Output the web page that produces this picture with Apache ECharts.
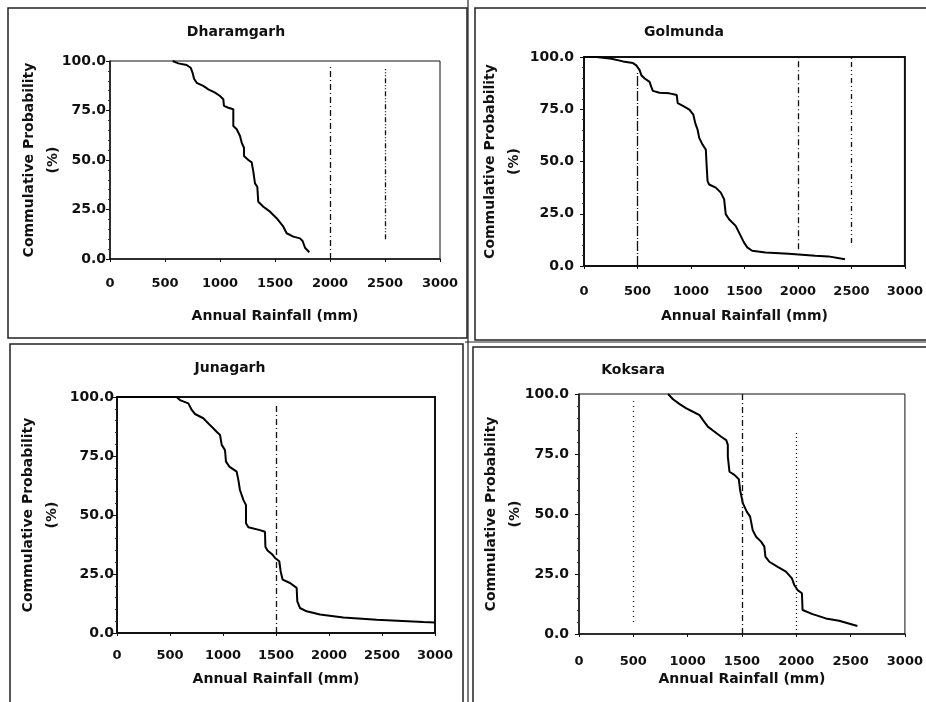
<!DOCTYPE html>
<html>
<head>
<meta charset="utf-8">
<script src="https://cdn.jsdelivr.net/npm/echarts@6/dist/echarts.min.js"></script>
<style>html,body{margin:0;padding:0;background:#fff}#c{width:926px;height:702px}</style>
</head>
<body>
<div id="c"></div>
<script>
// ---- data ----
const stations = ['Dharamgarh', 'Golmunda', 'Junagarh', 'Koksara'];
const xTicks = [0, 500, 1000, 1500, 2000, 2500, 3000];
const yTicks = [0, 25, 50, 75, 100];

const dharamgarhRain = [570, 621, 697, 733, 751, 764, 788, 848, 894, 955, 1000, 1030, 1036, 1076, 1121, 1121, 1152, 1182, 1197, 1218, 1218, 1258, 1288, 1303, 1318, 1339, 1348, 1394, 1455, 1515, 1576, 1606, 1667, 1727, 1751, 1773, 1812];
const dharamgarhProb = [100, 98.8, 98, 96.6, 94, 91, 89, 87.4, 85.7, 84, 82.3, 80.7, 77.3, 76.4, 75.6, 67.2, 65.5, 62.1, 58.8, 56.2, 52, 50, 48.8, 44.1, 38.2, 36.5, 28.9, 26.4, 23.9, 20.6, 16.3, 13, 11.3, 10.4, 9.1, 5.7, 3.4];

const golmundaRain = [0, 118, 257, 365, 458, 489, 520, 536, 567, 613, 629, 644, 706, 799, 867, 876, 938, 985, 1022, 1040, 1062, 1077, 1108, 1139, 1145, 1155, 1170, 1232, 1279, 1310, 1325, 1356, 1418, 1465, 1495, 1526, 1572, 1697, 1913, 2161, 2285, 2440];
const golmundaProb = [100, 100, 99.2, 97.9, 97.1, 96, 93.7, 91.3, 89.7, 88.1, 85.7, 83.8, 82.9, 82.6, 81.8, 77.9, 76.3, 74.8, 72.4, 68.4, 65.2, 61.3, 58.1, 55.7, 49.4, 40.6, 39, 37.5, 35.1, 31.9, 24.8, 22.4, 19.2, 14.4, 11.3, 8.9, 7.3, 6.5, 5.9, 4.9, 4.6, 3.2];

const junagarhRain = [0, 563, 594, 673, 705, 736, 814, 877, 940, 972, 988, 1019, 1028, 1060, 1129, 1145, 1160, 1192, 1217, 1217, 1239, 1349, 1396, 1400, 1420, 1460, 1491, 1531, 1544, 1563, 1632, 1695, 1701, 1726, 1789, 1915, 2135, 2450, 2890, 3000];
const junagarhProb = [100, 100, 98.7, 97.3, 94.5, 92.8, 91, 88.1, 85.3, 83.9, 79.7, 77.5, 72.6, 70.5, 68.4, 64.8, 60.6, 56.4, 54.2, 46.5, 44.8, 43.6, 42.9, 36.5, 35, 33.5, 31.8, 30.4, 26.1, 22.6, 21.2, 19.1, 13.4, 10.6, 9.2, 7.8, 6.6, 5.6, 4.7, 4.5];

const koksaraRain = [820, 865, 927, 988, 1049, 1110, 1140, 1186, 1248, 1309, 1355, 1370, 1370, 1385, 1431, 1471, 1483, 1508, 1544, 1575, 1599, 1630, 1676, 1706, 1716, 1752, 1829, 1905, 1960, 1982, 2012, 2052, 2058, 2150, 2272, 2394, 2563];
const koksaraProb = [100, 97.8, 95.8, 94, 92.6, 91.2, 89.2, 86.4, 84.3, 82.2, 80.8, 78.8, 73.9, 67.6, 66.3, 64.5, 60, 54.5, 51, 48.9, 43.3, 40.5, 38.5, 36.4, 32.2, 30.1, 28, 26, 23.2, 20.4, 18.3, 17, 10, 8.3, 6.5, 5.5, 3.3];

// vertical reference lines: rainfall value, lower %, upper %
const dharamgarhRefX = [2000, 2500], dharamgarhRefLo = [0, 10], dharamgarhRefHi = [97, 96];
const golmundaRefX = [500, 2000, 2500], golmundaRefLo = [0, 8, 11], golmundaRefHi = [93, 100, 100];
const junagarhRefX = [1500], junagarhRefLo = [0], junagarhRefHi = [97];
const koksaraRefX = [500, 1500, 2000], koksaraRefLo = [5, 0, 0], koksaraRefHi = [97, 100, 85];

// ---- layout / style ----
const FONT = 'DejaVu Sans';
const panels = [
  {rain: dharamgarhRain, prob: dharamgarhProb, refX: dharamgarhRefX, refLo: dharamgarhRefLo, refHi: dharamgarhRefHi,
   grid: {left: 110, top: 61, width: 330, height: 198}, title: [236, 32], xGap: 50, yGap: 45, yMargin: 4, xMargin: 18, border: 1,
   dash: [[6, 3, 1, 3], [5, 2, 1, 2, 1, 2]]},
  {rain: golmundaRain, prob: golmundaProb, refX: golmundaRefX, refLo: golmundaRefLo, refHi: golmundaRefHi,
   grid: {left: 584, top: 57, width: 323, height: 209}, title: [684, 32], xGap: 43, yGap: 58, yMargin: 10, xMargin: 19, border: 2,
   dash: [[10, 2, 1, 2], [6, 3, 1, 3], [5, 3, 1, 3, 1, 3]]},
  {rain: junagarhRain, prob: junagarhProb, refX: junagarhRefX, refLo: junagarhRefLo, refHi: junagarhRefHi,
   grid: {left: 117, top: 397, width: 318, height: 236}, title: [230, 368], xGap: 39, yGap: 53, yMargin: 3, xMargin: 16, border: 2,
   dash: [[6, 3, 1, 3]]},
  {rain: koksaraRain, prob: koksaraProb, refX: koksaraRefX, refLo: koksaraRefLo, refHi: koksaraRefHi,
   grid: {left: 579, top: 394, width: 327, height: 240}, title: [633, 370], xGap: 38, yGap: 52, yMargin: 10, xMargin: 21, border: 1,
   dash: [[1, 4], [6, 3, 1, 3], [1, 3]]}
];

const option = {
  backgroundColor: '#ffffff',
  animation: false,
  title: panels.map((p, i) => ({
    text: stations[i], left: p.title[0], top: p.title[1], padding: 0,
    textAlign: 'center', textVerticalAlign: 'middle',
    textStyle: {fontFamily: FONT, fontWeight: 'bold', fontSize: 14, color: '#111'}
  })),
  grid: panels.map(p => Object.assign({show: true, borderColor: '#111', borderWidth: p.border, backgroundColor: 'transparent'}, p.grid)),
  xAxis: panels.map((p, i) => ({
    type: 'value', gridIndex: i, min: xTicks[0], max: xTicks[xTicks.length - 1], interval: xTicks[1] - xTicks[0],
    name: 'Annual Rainfall (mm)', nameLocation: 'middle', nameGap: p.xGap, nameMoveOverlap: false,
    nameTextStyle: {fontFamily: FONT, fontWeight: 'bold', fontSize: 14, color: '#111'},
    axisLine: {show: true, onZero: false, lineStyle: {color: '#111', width: 1.5}},
    axisTick: {show: true, inside: false, length: 3, lineStyle: {color: '#111'}},
    axisLabel: {fontFamily: FONT, fontWeight: 'bold', fontSize: 13, color: '#111', margin: p.xMargin,
      formatter: v => String(v)},
    splitLine: {show: false}
  })),
  yAxis: panels.map((p, i) => ({
    type: 'value', gridIndex: i, min: yTicks[0], max: yTicks[yTicks.length - 1], interval: yTicks[1] - yTicks[0],
    name: 'Commulative Probability\n(%)', nameLocation: 'middle', nameRotate: 90, nameGap: p.yGap, nameMoveOverlap: false,
    nameTextStyle: {fontFamily: FONT, fontWeight: 'bold', fontSize: 14, color: '#111', lineHeight: 24, align: 'center'},
    axisLine: {show: true, onZero: false, lineStyle: {color: '#111', width: 1.5}},
    axisTick: {show: true, inside: false, length: 4, lineStyle: {color: '#111'}},
    minorTick: {show: true, splitNumber: 5, length: 2, lineStyle: {color: '#333'}},
    axisLabel: {fontFamily: FONT, fontWeight: 'bold', fontSize: 14, color: '#111', margin: p.yMargin,
      formatter: v => v.toFixed(1)},
    splitLine: {show: false}
  })),
  series: panels.map((p, i) => ({
    type: 'line', xAxisIndex: i, yAxisIndex: i, name: stations[i],
    data: p.rain.map((r, k) => [r, p.prob[k]]),
    showSymbol: false, symbol: 'none',
    lineStyle: {color: '#000', width: 2},
    markLine: {
      silent: true, symbol: ['none', 'none'], label: {show: false},
      data: p.refX.map((x, k) => [
        {coord: [x, p.refLo[k]], lineStyle: {color: '#111', width: 1.3, type: p.dash[k]}},
        {coord: [x, p.refHi[k]]}
      ])
    }
  })),
  graphic: [
    {type: 'rect', shape: {x: 8, y: 8, width: 459, height: 330}, style: {fill: 'none', stroke: '#222', lineWidth: 1.5}},
    {type: 'line', shape: {x1: 468, y1: 0, x2: 468, y2: 702}, style: {stroke: '#222', lineWidth: 1.2}},
    {type: 'rect', shape: {x: 475, y: 8, width: 460, height: 332}, style: {fill: 'none', stroke: '#222', lineWidth: 1.5}},
    {type: 'rect', shape: {x: 10, y: 344, width: 453, height: 370}, style: {fill: 'none', stroke: '#222', lineWidth: 1.5}},
    {type: 'line', shape: {x1: 465, y1: 342, x2: 926, y2: 342}, style: {stroke: '#222', lineWidth: 1.2}},
    {type: 'rect', shape: {x: 473, y: 347, width: 460, height: 370}, style: {fill: 'none', stroke: '#222', lineWidth: 1.5}}
  ]
};

const chart = echarts.init(document.getElementById('c'), null, {renderer: 'canvas'});
chart.setOption(option);
</script>
</body>
</html>
